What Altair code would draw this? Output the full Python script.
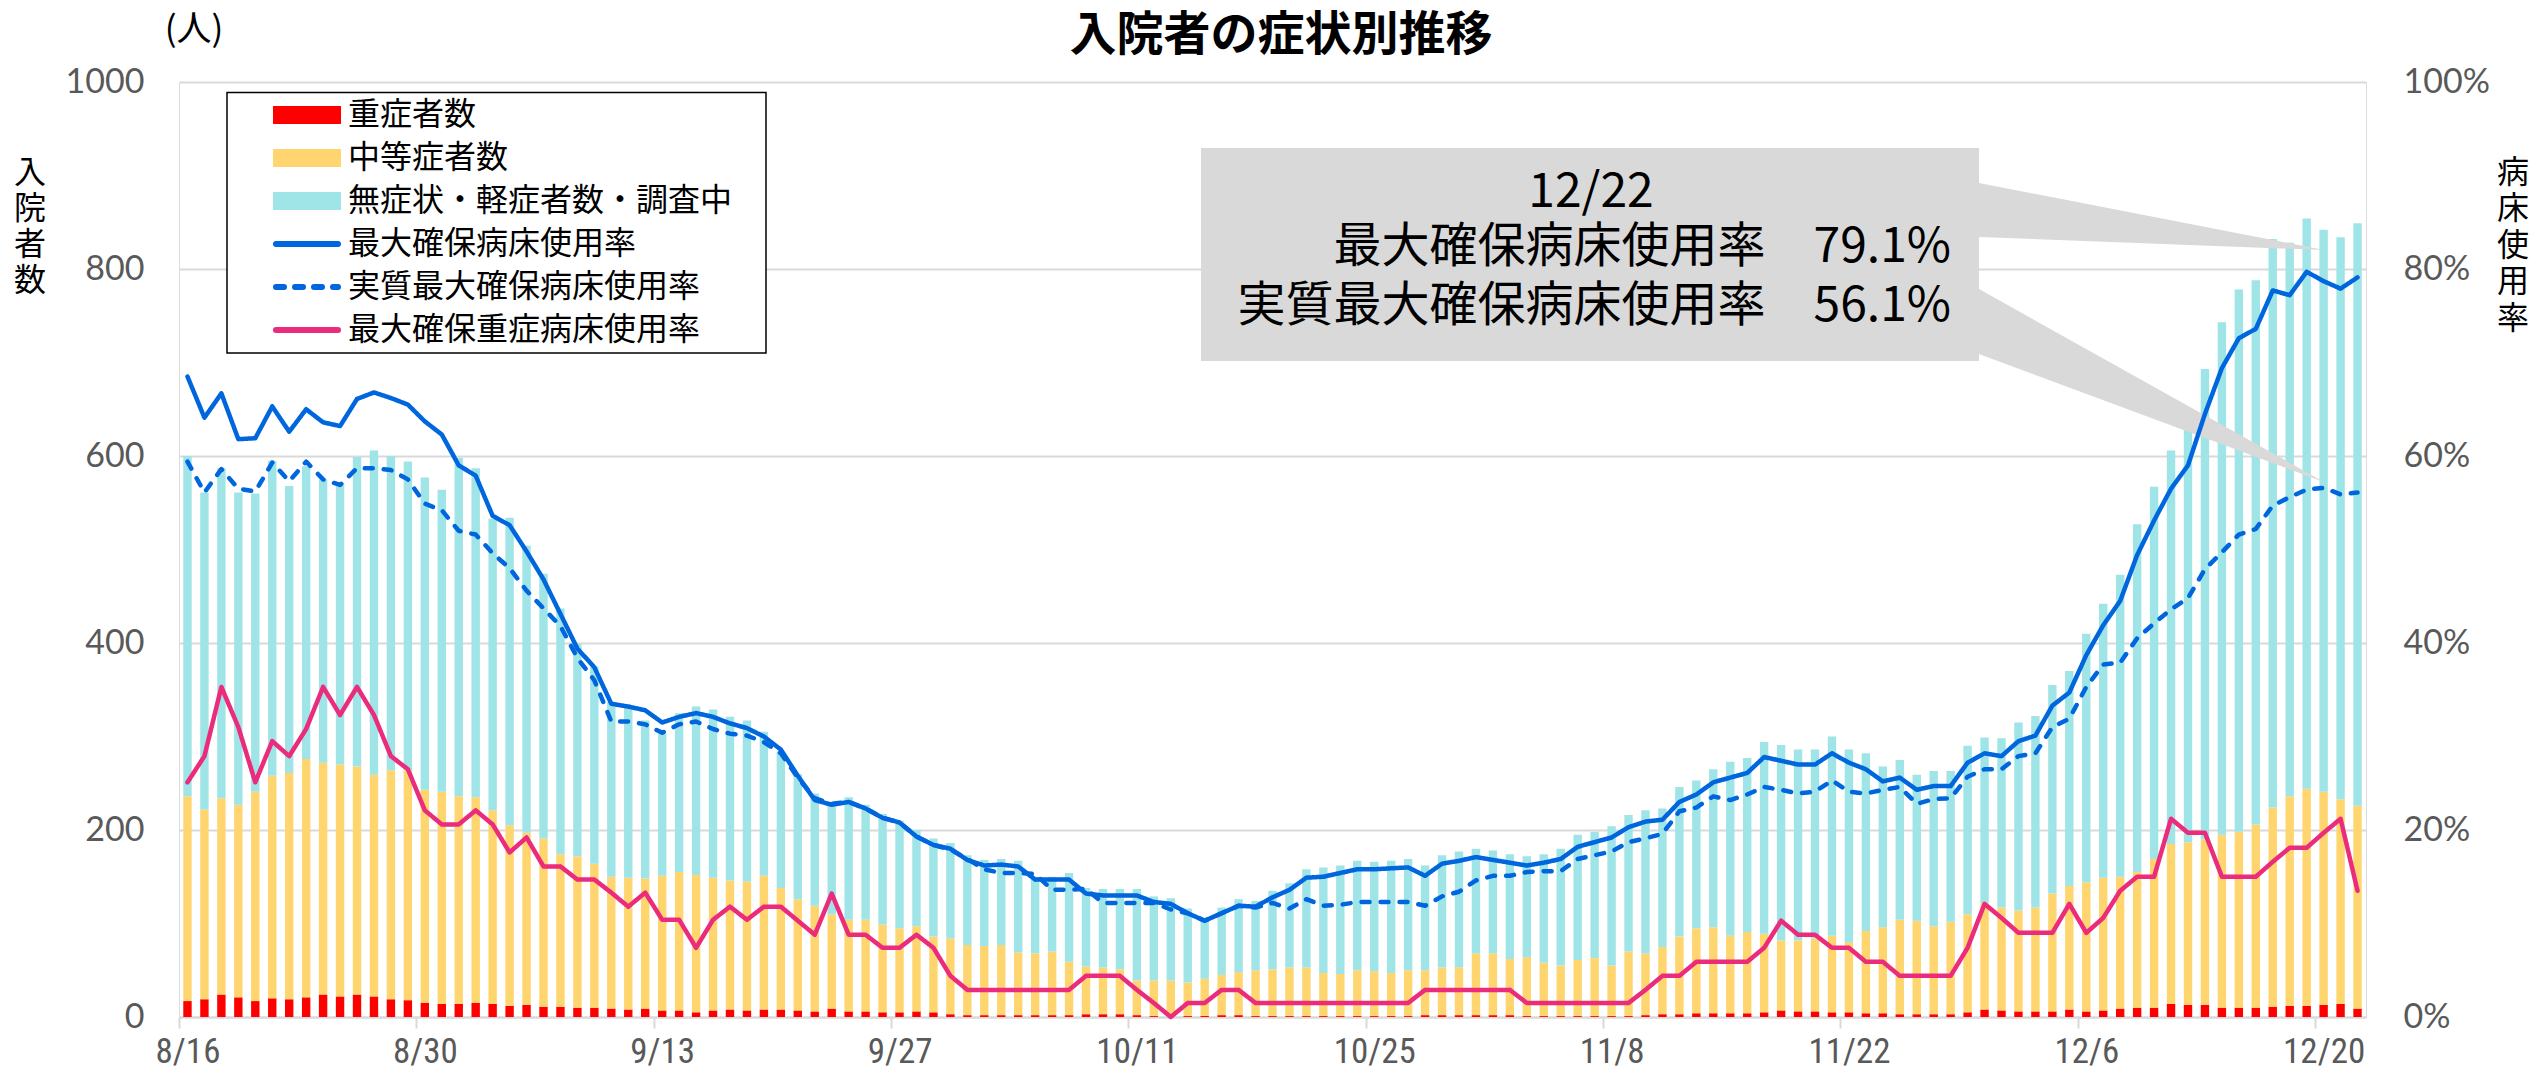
import altair as alt
import pandas as pd

# ---------------- data ----------------
START_DATE = "2020-08-16"
N_DAYS = 129
TICK_STEP = 14
TICK_LABELS = ["8/16", "8/30", "9/13", "9/27", "10/11", "10/25", "11/8", "11/22", "12/6", "12/20"]

BAR_NAMES = ["重症者数", "中等症者数", "無症状・軽症者数・調査中"]
LINE_NAMES = ["最大確保病床使用率", "実質最大確保病床使用率", "最大確保重症病床使用率"]

SEVERE = [
    17, 19, 24, 21, 17, 20, 19, 21, 24, 22, 24, 22, 19, 18, 15, 14, 14, 15, 14, 12,
    13, 11, 11, 10, 10, 9, 8, 9, 7, 7, 5, 7, 8, 7, 8, 8, 7,
    6, 9, 6, 6, 5, 5, 6, 5, 3, 2, 2, 2, 2, 2, 2, 2, 3, 3, 3, 2, 1, 0, 1, 1,
    2, 2, 1, 1, 1, 1, 1, 1, 1, 1, 1,
    1, 2, 2, 2, 2, 2, 2, 1, 1, 1, 1, 1, 1, 1, 2, 3, 3, 4, 4, 4, 4, 5, 7, 6, 6, 5, 5, 4, 4,
    3, 3, 3, 3, 5, 8, 7, 6, 6, 6, 8, 6, 7, 9, 10, 10, 14, 13, 13, 10, 10, 10, 11, 12, 12, 13, 14, 9,
]
MODERATE = [
    219, 203, 210, 206, 224, 238, 242, 255, 248, 248, 244, 237, 245, 246, 228, 227, 222, 220, 207, 193,
    184, 180, 163, 162, 154, 141, 141, 139, 144, 148, 147, 142, 138, 138, 143, 130, 119,
    113, 101, 98, 98, 94, 90, 91, 81, 81, 75, 74, 75, 67, 66, 68, 57, 51, 50, 48, 37, 38, 39, 36, 40,
    43, 46, 49, 50, 52, 52, 46, 45, 49, 48, 46,
    49, 48, 51, 51, 66, 66, 60, 63, 57, 54, 60, 62, 54, 69, 66, 72, 83, 91, 92, 83, 87, 84, 75, 76, 78,
    82, 75, 88, 92,
    101, 100, 94, 99, 105, 114, 110, 108, 111, 126, 132, 138, 142, 141, 145, 159, 171, 174, 177, 185,
    188, 196, 213, 224, 232, 228, 219, 217,
]
MILD = [
    364, 339, 353, 334, 319, 337, 307, 313, 303, 301, 331, 347, 336, 330, 334, 323, 362, 352, 312, 329,
    307, 283, 263, 227, 211, 187, 183, 169, 152, 170, 180, 180, 175, 172, 154, 146, 134,
    120, 117, 131, 123, 118, 115, 103, 105, 102, 96, 92, 92, 98, 82, 80, 95, 84, 84, 86, 98, 90, 88, 79, 65,
    72, 78, 74, 84, 90, 105, 113, 116, 117, 117, 120,
    119, 112, 120, 124, 112, 110, 112, 108, 116, 125, 134, 135, 149, 146, 153, 148, 160, 158, 169, 186,
    186, 205, 209, 204, 202, 213, 206, 190, 172,
    171, 156, 166, 161, 180, 177, 181, 201, 205, 223, 230, 266, 293, 323, 372, 398, 421, 455, 503, 548,
    580, 582, 608, 592, 610, 601, 601, 623,
]
MAX_BED_RATE = [
    68.5, 64.1, 66.7, 61.8, 61.9, 65.3, 62.6, 65.0, 63.6, 63.2, 66.1, 66.8, 66.2, 65.5, 63.7, 62.3, 59.0,
    57.9, 53.6, 52.6, 49.8, 46.8, 43.1, 39.4, 37.4, 33.5, 33.2, 32.8, 31.5, 32.1, 32.5, 32.1, 31.4, 30.9,
    30.0, 28.6, 25.8,
    23.2, 22.7, 23.0, 22.3, 21.3, 20.8, 19.3, 18.4, 18.0, 16.8, 16.2, 16.3, 16.1, 14.7, 14.7, 14.7, 13.2,
    13.0, 13.0, 13.0, 12.3, 12.1, 11.1, 10.3, 11.1, 11.9, 11.8, 12.8, 13.6, 14.9, 15.0, 15.4, 15.8, 15.8, 15.9,
    16.0, 15.1, 16.4, 16.7, 17.1, 16.8, 16.5, 16.2, 16.5, 16.9, 18.2, 18.7, 19.2, 20.3, 20.9, 21.1, 23.0,
    23.8, 25.1, 25.6, 26.1, 27.8, 27.4, 27.0, 27.0, 28.2, 27.2, 26.5, 25.2,
    25.6, 24.3, 24.7, 24.7, 27.2, 28.2, 27.9, 29.5, 30.1, 33.3, 34.7, 38.7, 41.9, 44.5, 49.4, 53.1, 56.5,
    59.0, 64.5, 69.4, 72.6, 73.6, 77.7, 77.2, 79.7, 78.7, 77.9, 79.1,
]
REAL_MAX_BED_RATE = [
    59.4, 56.1, 58.6, 56.5, 56.2, 59.3, 57.3, 59.4, 57.5, 56.9, 58.7, 58.7, 58.5, 57.5, 54.9, 54.2, 52.0,
    51.6, 49.6, 48.0, 45.6, 43.7, 41.8, 38.4, 36.0, 31.6, 31.6, 31.3, 30.4, 31.3, 31.6, 30.8, 30.3, 30.1,
    29.4, 28.2, 25.6,
    23.4, 22.8, 23.0, 22.3, 21.3, 20.8, 19.3, 18.4, 17.9, 16.9, 15.8, 15.4, 15.4, 15.3, 13.6, 13.6, 13.7,
    12.2, 12.2, 12.2, 12.2, 11.5, 11.1, 10.3, 11.1, 11.9, 11.7, 12.2, 11.6, 12.6, 11.9, 12.0, 12.3, 12.3, 12.3,
    12.3, 11.9, 12.9, 13.4, 14.6, 15.1, 15.1, 15.5, 15.6, 15.6, 16.9, 17.3, 17.7, 18.7, 19.1, 19.6, 22.0,
    22.4, 23.6, 23.2, 23.8, 24.6, 24.3, 23.9, 24.1, 25.3, 24.1, 23.9, 24.3,
    24.6, 22.8, 23.3, 23.4, 25.7, 26.5, 26.5, 27.9, 28.2, 31.0, 31.9, 35.3, 37.7, 37.9, 40.5, 42.1, 43.6,
    44.8, 47.9, 49.7, 51.6, 52.2, 54.7, 55.6, 56.4, 56.6, 55.9, 56.1,
]
SEVERE_BED_RATE = [
    25.1, 27.9, 35.3, 31.0, 25.1, 29.5, 27.9, 30.8, 35.3, 32.3, 35.3, 32.3, 27.9, 26.5, 22.1, 20.6, 20.6,
    22.1, 20.6, 17.6, 19.2, 16.1, 16.1, 14.7, 14.7, 13.3, 11.8, 13.3, 10.4, 10.4, 7.4, 10.4, 11.8, 10.4,
    11.8, 11.8, 10.3,
    8.8, 13.2, 8.8, 8.8, 7.4, 7.4, 8.8, 7.4, 4.4, 2.9, 2.9, 2.9, 2.9, 2.9, 2.9, 2.9, 4.4, 4.4, 4.4, 2.9,
    1.5, 0.0, 1.5, 1.5, 2.9, 2.9, 1.5, 1.5, 1.5, 1.5, 1.5, 1.5, 1.5, 1.5, 1.5,
    1.5, 2.9, 2.9, 2.9, 2.9, 2.9, 2.9, 1.5, 1.5, 1.5, 1.5, 1.5, 1.5, 1.5, 2.9, 4.4, 4.4, 5.9, 5.9, 5.9,
    5.9, 7.4, 10.3, 8.8, 8.8, 7.4, 7.4, 5.9, 5.9,
    4.4, 4.4, 4.4, 4.4, 7.4, 12.1, 10.6, 9.0, 9.0, 9.0, 12.1, 9.0, 10.6, 13.5, 15.0, 15.0, 21.2, 19.7,
    19.7, 15.0, 15.0, 15.0, 16.6, 18.1, 18.1, 19.7, 21.2, 13.5,
]

TITLE = "入院者の症状別推移"
UNIT_LABEL = "(人)"
LEFT_TITLE = "入院者数"
RIGHT_TITLE = "病床使用率"
NOTE_DATE = "12/22"
NOTE_LINES = ["最大確保病床使用率　79.1%", "実質最大確保病床使用率　56.1%"]

for arr in (SEVERE, MODERATE, MILD, MAX_BED_RATE, REAL_MAX_BED_RATE, SEVERE_BED_RATE):
    assert len(arr) == N_DAYS, len(arr)

# ---------------- styles ----------------
BAR_COLORS = ["#FF0000", "#FFD56F", "#9FE4E7"]
LINE_COLORS = ["#0066DD", "#0066DD", "#EB2B7C"]
LINE_DASHES = [[1, 0], [8, 11], [1, 0]]
JP = "Noto Sans CJK JP"
NUM = "Lato"
NARROW = "Liberation Sans Narrow, Roboto Condensed, Roboto, sans-serif"
GRID = "#D9D9D9"
LABEL_GRAY = "#595959"
W, H = 2187, 935

# ---------------- tables ----------------
dates = pd.date_range(START_DATE, periods=N_DAYS, freq="D")
bar_rows = []
for ord_, (name, vals) in enumerate(zip(BAR_NAMES, [SEVERE, MODERATE, MILD])):
    for d in range(N_DAYS):
        bar_rows.append({"day": d, "date": dates[d].strftime("%Y-%m-%d"),
                         "category": name, "ord": ord_, "count": vals[d]})
bars_df = pd.DataFrame(bar_rows)

line_rows = []
for ord_, (name, vals) in enumerate(zip(LINE_NAMES, [MAX_BED_RATE, REAL_MAX_BED_RATE, SEVERE_BED_RATE])):
    for d in range(N_DAYS):
        line_rows.append({"day": d, "date": dates[d].strftime("%Y-%m-%d"),
                          "series": name, "ord": ord_, "rate": vals[d]})
lines_df = pd.DataFrame(line_rows)

# ---------------- scales / axes ----------------
x_scale = alt.Scale(domain=[0, N_DAYS], nice=False, zero=False, padding=0)
tick_values = [i * TICK_STEP for i in range(len(TICK_LABELS))]
label_array = "[" + ",".join("'%s'" % t for t in TICK_LABELS) + "]"
x_axis = alt.Axis(
    values=tick_values, labelExpr=f"{label_array}[round(datum.value / {TICK_STEP})]",
    title=None, grid=False, domain=True, domainColor=GRID, domainWidth=2,
    ticks=True, tickColor=GRID, tickWidth=2, tickSize=11,
    labelFont=NARROW, labelFontSize=35, labelColor=LABEL_GRAY, labelPadding=6,
    labelOffset=8.5, labelFlush=False, labelOverlap=False, labelBound=False,
)
y_left = alt.Axis(
    orient="left", values=[0, 200, 400, 600, 800, 1000], format="d", title=None,
    grid=True, gridColor=GRID, gridWidth=2, domain=False, ticks=False, tickSize=0,
    labelFont=NUM, labelFontSize=34, labelColor=LABEL_GRAY, labelPadding=35,
)
y_right = alt.Axis(
    orient="right", values=[0, 20, 40, 60, 80, 100], labelExpr="datum.value + '%'", title=None,
    grid=False, domain=False, ticks=False, tickSize=0,
    labelFont=NUM, labelFontSize=34, labelColor=LABEL_GRAY, labelPadding=37,
)

bars = alt.Chart(bars_df).transform_calculate(xc="datum.day + 0.5").mark_bar(size=8.4).encode(
    x=alt.X("xc:Q", scale=x_scale, axis=x_axis),
    y=alt.Y("count:Q", stack="zero", scale=alt.Scale(domain=[0, 1000], nice=False), axis=y_left),
    color=alt.Color("category:N", scale=alt.Scale(domain=BAR_NAMES, range=BAR_COLORS), legend=None),
    order=alt.Order("ord:Q", sort="ascending"),
)

lines = alt.Chart(lines_df).transform_calculate(xc="datum.day + 0.5").mark_line(
    strokeWidth=4.5, strokeCap="round", strokeJoin="round"
).encode(
    x=alt.X("xc:Q", scale=x_scale, axis=x_axis),
    y=alt.Y("rate:Q", scale=alt.Scale(domain=[0, 100], nice=False), axis=y_right),
    color=alt.Color("series:N", scale=alt.Scale(domain=LINE_NAMES, range=LINE_COLORS), legend=None),
    strokeDash=alt.StrokeDash("series:N", scale=alt.Scale(domain=LINE_NAMES, range=LINE_DASHES), legend=None),
)

one = pd.DataFrame({"k": [0]})

# callout box with two pointers (one filled shape, path in units of 100 px)
CALLOUT_PATH = ("M0,0L7.78,0L7.78,0.35L11.23,1.02L7.78,0.89L7.78,1.41L11.23,3.34"
                "L7.78,2.06L7.78,2.13L0,2.13Z")
callout = alt.Chart(one).mark_point(
    shape=CALLOUT_PATH, size=40000, filled=True, color="#D9D9D9", opacity=1, strokeWidth=0
).encode(x=alt.value(1022), y=alt.value(66))


def text_layer(text, x, y, size, align="center", baseline="middle", weight="normal",
               font=JP, color="#000000"):
    return alt.Chart(one).mark_text(
        align=align, baseline=baseline, fontSize=size, font=font, color=color, fontWeight=weight
    ).encode(x=alt.value(x), y=alt.value(y), text=alt.value(text))


# legend (drawn by hand to match the boxed Excel legend)
LEG_X0, LEG_X1 = 94, 162
LEG_ROWS = [33, 76, 119, 162, 205, 248]
legend_layers = [
    alt.Chart(one).mark_rect(fill="white", stroke="#000000", strokeWidth=1.5).encode(
        x=alt.value(48), x2=alt.value(587), y=alt.value(10.5), y2=alt.value(271))
]
for i, name in enumerate(BAR_NAMES):
    yc = LEG_ROWS[i]
    legend_layers.append(alt.Chart(one).mark_rect(color=BAR_COLORS[i]).encode(
        x=alt.value(LEG_X0), x2=alt.value(LEG_X1), y=alt.value(yc - 9), y2=alt.value(yc + 9)))
    legend_layers.append(text_layer(name, 169, yc, 32, align="left"))
for j, name in enumerate(LINE_NAMES):
    yc = LEG_ROWS[3 + j]
    legend_layers.append(alt.Chart(one).mark_rule(
        color=LINE_COLORS[j], strokeWidth=6, strokeDash=LINE_DASHES[j], strokeCap="round").encode(
        x=alt.value(LEG_X0 + 3), x2=alt.value(LEG_X1 - 3), y=alt.value(yc)))
    legend_layers.append(text_layer(name, 169, yc, 32, align="left"))

texts = [
    text_layer(TITLE, 1102, -46, 47, weight="bold"),
    text_layer(UNIT_LABEL, 15, -52, 35),
    text_layer(NOTE_DATE, 1412, 111, 48),
    text_layer(NOTE_LINES[0], 1772, 166, 48, align="right"),
    text_layer(NOTE_LINES[1], 1772, 225, 48, align="right"),
]
# vertical axis titles, one character per line
for k, ch in enumerate(LEFT_TITLE):
    texts.append(text_layer(ch, -149, 91 + 36 * k, 32))
for k, ch in enumerate(RIGHT_TITLE):
    texts.append(text_layer(ch, 2334, 91 + 36.4 * k, 32))

chart = alt.layer(bars, callout, lines, *legend_layers, *texts).resolve_scale(
    y="independent", color="independent", strokeDash="independent"
).properties(
    width=W, height=H,
    autosize=alt.AutoSizeParams(type="none"),
    padding={"left": 171, "top": 74, "right": 168, "bottom": 57},
).configure_view(stroke=None).configure(background="white")

chart.save("out.html", embed_options={"renderer": "svg", "actions": False})
